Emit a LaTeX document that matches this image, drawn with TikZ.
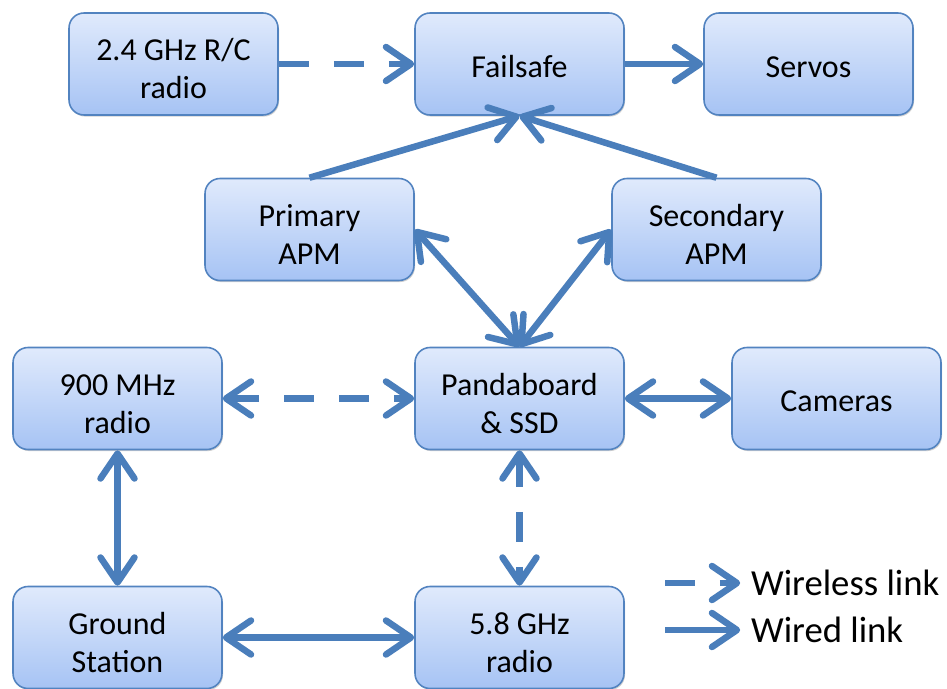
\documentclass[tikz,border=0pt]{standalone}
\usepackage{fontspec}
\setmainfont{Carlito}
\usetikzlibrary{arrows.meta,shadows}
\definecolor{boxtop}{HTML}{E0EAFC}
\definecolor{boxbottom}{HTML}{A6C3F4}
\definecolor{boxline}{HTML}{5283C0}
\definecolor{linkblue}{HTML}{4A7EBB}
\tikzset{
    unit/.style={draw=boxline, line width=0.9pt, rounded corners=0.3cm,
        top color=boxtop, bottom color=boxbottom,
        minimum width=4.18cm, minimum height=2.04cm, align=center,
        text height=15pt,
        font=\fontsize{18.2}{21.6}\selectfont,
        drop shadow={shadow xshift=0.6pt, shadow yshift=-0.9pt, fill=black, opacity=0.18}},
    twoline/.style={text height=39.6pt},
    barb/.tip={Straight Barb[length=0.5cm, width=0.68cm, line cap=round, line join=round]},
    link/.style={draw=linkblue, line width=0.13cm},
    wire/.style={link},
    wireless/.style={link, dash pattern=on 0.6cm off 0.5cm}
}

\begin{document}
\begin{tikzpicture}[x=0.02cm, y=-0.02cm]
\useasboundingbox (0,0) rectangle (947,689);

% top row
\node[unit, twoline] (rcradio) at (173.5,64) {2.4 GHz R/C\\radio};
\node[unit] (failsafe) at (519.5,64) {Failsafe};
\node[unit] (servos) at (808.5,64) {Servos};

% autopilots
\node[unit, twoline] (primary) at (309.5,229.5) {Primary\\APM};
\node[unit, twoline] (secondary) at (716.5,229.5) {Secondary\\APM};

% middle row
\node[unit, twoline] (mhzradio) at (117.5,398.5) {900 MHz\\radio};
\node[unit, twoline] (panda) at (519.5,398.5) {Pandaboard\\\& SSD};
\node[unit] (cameras) at (836.5,398.5) {Cameras};

% bottom row
\node[unit, twoline] (ground) at (117.5,637.5) {Ground\\Station};
\node[unit, twoline] (ghzradio) at (519.5,637.5) {5.8 GHz\\radio};

\draw[wireless, -barb] (rcradio) -- (failsafe);
\draw[wire, -barb] (failsafe) -- (servos);
\draw[wire, -barb] (primary.north) -- (failsafe.south);
\draw[wire, -barb] (secondary.north) -- (failsafe.south);
\draw[wire, barb-barb] (primary.east) -- (panda.north);
\draw[wire, barb-barb] (secondary.west) -- (panda.north);
\draw[wireless, barb-barb] (mhzradio) -- (panda);
\draw[wire, barb-barb] (panda) -- (cameras);
\draw[wire, barb-barb] (mhzradio) -- (ground);
\draw[wireless, barb-barb] (panda) -- (ghzradio);
\draw[wire, barb-barb] (ground) -- (ghzradio);

% legend
\node[anchor=west, inner sep=1pt, font=\fontsize{20.9}{25}\selectfont] (wltext) at (749,583) {Wireless link};
\node[anchor=west, inner sep=1pt, font=\fontsize{20.9}{25}\selectfont] (wdtext) at (749,630) {Wired link};
\coordinate (wlstart) at (665,583);
\coordinate (wdstart) at (665,630);
\draw[wireless, -barb] (wlstart) -- ([xshift=-5pt]wltext.west);
\draw[wire, -barb] (wdstart) -- ([xshift=-5pt]wdtext.west);
\end{tikzpicture}
\end{document}
